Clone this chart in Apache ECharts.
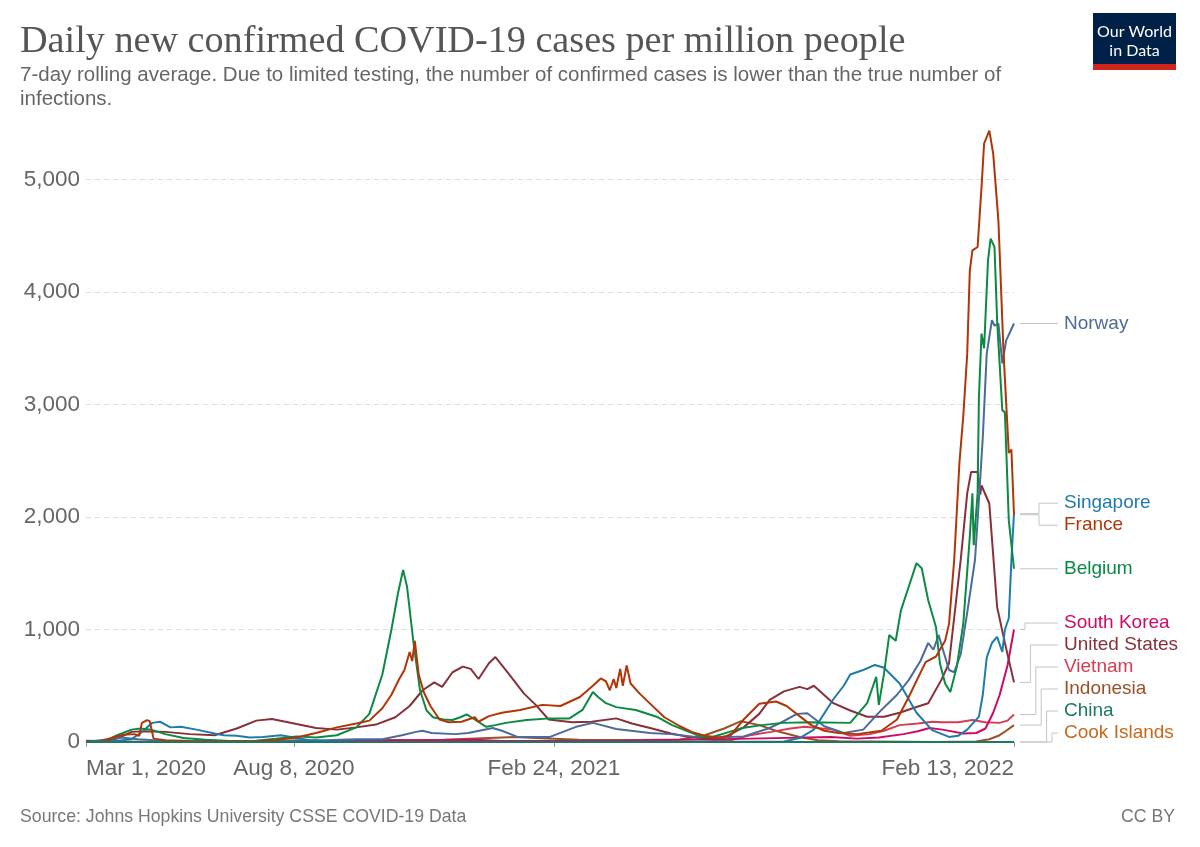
<!DOCTYPE html>
<html><head><meta charset="utf-8">
<script src="https://cdn.jsdelivr.net/npm/echarts@6/dist/echarts.min.js"></script>
<style>html,body{margin:0;padding:0;background:#fff}#c{width:1200px;height:847px}</style>
</head><body><div id="c"></div>
<script>
// ---------------- DATA ----------------
const countries = ['Norway','Singapore','France','Belgium','South Korea','United States','Vietnam','Indonesia','China','Cook Islands'];
const colors = ['#4C6A9C','#1F7BAB','#B13507','#0A8A43','#CF0A66','#883039','#D73C50','#9A5129','#1A7A5F','#C8681C'];

const tickDates = ['2020-03-01','2020-08-08','2021-02-24','2022-02-13'];
const tickLabels = ['Mar 1, 2020','Aug 8, 2020','Feb 24, 2021','Feb 13, 2022'];
const yTicks = [0,1000,2000,3000,4000,5000];

const norway = [['2020-03-01',0],['2020-03-15',20],['2020-03-28',40],['2020-04-10',25],['2020-05-01',10],['2020-06-01',3],['2020-07-15',3],['2020-08-10',15],['2020-09-01',15],['2020-09-25',25],['2020-10-15',25],['2020-10-30',60],['2020-11-10',90],['2020-11-15',100],['2020-11-22',80],['2020-12-10',70],['2020-12-20',80],['2021-01-08',125],['2021-01-15',100],['2021-01-27',45],['2021-02-21',45],['2021-03-13',135],['2021-03-26',170],['2021-04-13',115],['2021-05-09',80],['2021-05-25',70],['2021-06-10',50],['2021-07-01',40],['2021-07-20',50],['2021-08-08',120],['2021-08-19',180],['2021-08-30',250],['2021-09-07',255],['2021-09-20',140],['2021-10-05',80],['2021-10-20',110],['2021-11-03',285],['2021-11-15',420],['2021-11-24',550],['2021-12-03',720],['2021-12-09',880],['2021-12-13',820],['2021-12-17',950],['2021-12-25',640],['2021-12-29',620],['2022-01-03',780],['2022-01-08',1150],['2022-01-14',1620],['2022-01-16',1970],['2022-01-20',2710],['2022-01-23',3450],['2022-01-27',3750],['2022-01-29',3700],['2022-02-01',3720],['2022-02-04',3365],['2022-02-07',3570],['2022-02-13',3720]];

const singapore = [['2020-03-01',2],['2020-03-20',5],['2020-04-05',25],['2020-04-12',80],['2020-04-21',170],['2020-04-27',180],['2020-05-05',130],['2020-05-13',135],['2020-05-25',110],['2020-06-08',75],['2020-06-15',60],['2020-06-25',55],['2020-07-05',40],['2020-07-15',45],['2020-07-29',60],['2020-08-08',40],['2020-08-20',15],['2020-09-05',6],['2020-10-01',1],['2021-05-20',3],['2021-08-20',5],['2021-09-01',35],['2021-09-12',110],['2021-09-27',380],['2021-10-05',500],['2021-10-10',600],['2021-10-20',640],['2021-10-29',685],['2021-11-05',660],['2021-11-17',520],['2021-11-30',260],['2021-12-12',105],['2021-12-25',45],['2022-01-01',55],['2022-01-08',110],['2022-01-17',225],['2022-01-20',420],['2022-01-23',750],['2022-01-27',880],['2022-01-31',935],['2022-02-04',800],['2022-02-06',1000],['2022-02-09',1100],['2022-02-11',1620],['2022-02-13',2030]];

const france = [['2020-03-01',0],['2020-03-12',5],['2020-03-22',40],['2020-03-30',65],['2020-04-07',70],['2020-04-11',55],['2020-04-13',170],['2020-04-17',195],['2020-04-19',185],['2020-04-22',30],['2020-05-01',15],['2020-05-20',8],['2020-06-15',6],['2020-07-10',10],['2020-07-25',18],['2020-08-10',40],['2020-08-25',80],['2020-09-10',130],['2020-09-25',165],['2020-10-05',190],['2020-10-15',300],['2020-10-22',420],['2020-10-28',560],['2020-11-01',640],['2020-11-05',800],['2020-11-07',720],['2020-11-09',900],['2020-11-12',600],['2020-11-16',440],['2020-11-21',320],['2020-11-28',200],['2020-12-05',175],['2020-12-15',180],['2020-12-25',220],['2020-12-28',180],['2021-01-05',230],['2021-01-15',260],['2021-01-29',285],['2021-02-15',330],['2021-03-01',320],['2021-03-16',400],['2021-03-26',500],['2021-04-01',565],['2021-04-05',540],['2021-04-08',460],['2021-04-11',560],['2021-04-13',480],['2021-04-16',650],['2021-04-18',500],['2021-04-21',680],['2021-04-24',520],['2021-05-01',430],['2021-05-10',330],['2021-05-20',220],['2021-06-01',140],['2021-06-10',90],['2021-06-20',55],['2021-07-01',40],['2021-07-10',60],['2021-07-20',200],['2021-08-01',340],['2021-08-14',360],['2021-08-22',320],['2021-09-01',230],['2021-09-10',150],['2021-09-20',100],['2021-10-01',80],['2021-10-15',70],['2021-11-03',100],['2021-11-15',200],['2021-11-24',400],['2021-12-07',710],['2021-12-15',760],['2021-12-22',900],['2021-12-25',1050],['2021-12-29',1620],['2022-01-02',2480],['2022-01-05',2900],['2022-01-08',3450],['2022-01-10',4190],['2022-01-12',4370],['2022-01-16',4400],['2022-01-19',4930],['2022-01-21',5320],['2022-01-25',5435],['2022-01-28',5230],['2022-02-01',4635],['2022-02-05',3450],['2022-02-09',2570],['2022-02-11',2600],['2022-02-13',2020]];

const belgium = [['2020-03-01',0],['2020-03-15',5],['2020-03-25',60],['2020-04-05',110],['2020-04-12',120],['2020-04-20',110],['2020-05-01',70],['2020-05-15',35],['2020-06-01',20],['2020-06-20',10],['2020-07-10',12],['2020-07-25',30],['2020-08-10',50],['2020-08-25',40],['2020-09-10',60],['2020-09-25',130],['2020-10-05',250],['2020-10-15',600],['2020-10-22',1000],['2020-10-27',1320],['2020-10-31',1530],['2020-11-03',1380],['2020-11-08',880],['2020-11-13',460],['2020-11-18',280],['2020-11-23',220],['2020-12-01',200],['2020-12-08',195],['2020-12-14',220],['2020-12-19',245],['2020-12-25',200],['2021-01-03',135],['2021-01-10',150],['2021-01-18',170],['2021-02-03',195],['2021-02-21',210],['2021-03-08',210],['2021-03-18',285],['2021-03-26',445],['2021-03-30',400],['2021-04-05',345],['2021-04-13',310],['2021-04-28',285],['2021-05-14',225],['2021-05-26',150],['2021-06-08',90],['2021-06-18',45],['2021-06-26',45],['2021-07-09',90],['2021-07-19',125],['2021-08-03',150],['2021-08-19',170],['2021-09-09',175],['2021-10-10',170],['2021-10-23',345],['2021-10-30',580],['2021-11-01',330],['2021-11-05',610],['2021-11-09',950],['2021-11-14',900],['2021-11-18',1170],['2021-11-24',1380],['2021-11-30',1590],['2021-12-04',1545],['2021-12-09',1260],['2021-12-15',1020],['2021-12-18',700],['2021-12-22',520],['2021-12-26',445],['2021-12-31',670],['2022-01-05',1055],['2022-01-10',1825],['2022-01-12',2210],['2022-01-13',1750],['2022-01-16',2210],['2022-01-17',3060],['2022-01-19',3630],['2022-01-21',3500],['2022-01-24',4280],['2022-01-26',4475],['2022-01-29',4400],['2022-01-31',3750],['2022-02-04',2950],['2022-02-06',2930],['2022-02-09',1970],['2022-02-13',1540]];

const southKorea = [['2020-03-01',12],['2020-03-10',10],['2020-04-01',2],['2020-08-28',6],['2020-12-25',20],['2021-01-15',10],['2021-04-20',12],['2021-07-25',30],['2021-09-25',45],['2021-10-15',30],['2021-11-01',40],['2021-11-20',70],['2021-12-01',95],['2021-12-10',125],['2021-12-20',110],['2022-01-05',75],['2022-01-15',80],['2022-01-22',120],['2022-01-28',260],['2022-02-02',420],['2022-02-08',680],['2022-02-13',1000]];

const unitedStates = [['2020-03-01',0],['2020-03-15',3],['2020-03-25',30],['2020-04-05',90],['2020-04-15',95],['2020-05-01',90],['2020-05-20',70],['2020-06-08',60],['2020-06-25',120],['2020-07-10',190],['2020-07-22',205],['2020-08-10',160],['2020-08-25',125],['2020-09-10',110],['2020-09-25',130],['2020-10-10',155],['2020-10-25',220],['2020-11-05',320],['2020-11-15',460],['2020-11-24',530],['2020-11-30',490],['2020-12-08',620],['2020-12-16',670],['2020-12-22',650],['2020-12-28',560],['2021-01-05',700],['2021-01-10',755],['2021-01-20',610],['2021-02-01',430],['2021-02-10',330],['2021-02-20',200],['2021-03-10',175],['2021-03-25',180],['2021-04-13',210],['2021-04-25',165],['2021-05-09',125],['2021-05-25',75],['2021-06-08',45],['2021-06-21',30],['2021-07-05',40],['2021-07-20',130],['2021-08-01',250],['2021-08-09',375],['2021-08-20',450],['2021-09-01',490],['2021-09-07',470],['2021-09-12',500],['2021-09-27',345],['2021-10-10',280],['2021-10-23',225],['2021-11-05',225],['2021-11-17',260],['2021-11-27',300],['2021-12-09',345],['2021-12-19',550],['2021-12-25',700],['2022-01-03',1620],['2022-01-08',2210],['2022-01-11',2400],['2022-01-16',2400],['2022-01-18',2200],['2022-01-19',2280],['2022-01-25',2120],['2022-01-31',1200],['2022-02-06',880],['2022-02-13',530]];

const vietnam = [['2020-03-01',0],['2021-04-30',0],['2021-05-20',2],['2021-06-15',3],['2021-07-10',15],['2021-07-25',60],['2021-08-10',90],['2021-08-25',120],['2021-09-05',135],['2021-09-27',110],['2021-10-10',55],['2021-10-25',70],['2021-11-05',100],['2021-11-17',150],['2021-12-01',165],['2021-12-12',180],['2021-12-20',175],['2022-01-01',175],['2022-01-12',195],['2022-01-22',175],['2022-02-02',170],['2022-02-08',190],['2022-02-13',245]];

const indonesia = [['2020-03-01',0],['2020-06-01',2],['2020-09-01',8],['2020-10-01',15],['2020-12-01',20],['2021-01-25',45],['2021-02-10',35],['2021-03-15',20],['2021-05-01',18],['2021-06-01',22],['2021-06-20',60],['2021-07-05',120],['2021-07-18',185],['2021-08-01',150],['2021-08-15',95],['2021-09-01',45],['2021-09-15',15],['2021-10-01',6],['2021-12-15',1],['2022-01-15',5],['2022-01-25',25],['2022-02-01',55],['2022-02-07',100],['2022-02-13',150]];

const china = [['2020-03-01',0.3],['2020-03-15',0.02],['2020-04-15',0.05],['2020-07-30',0.07],['2021-01-15',0.07],['2021-08-05',0.09],['2021-11-05',0.05],['2022-01-15',0.12],['2022-02-13',0.1]];

const cookIslands = [['2020-03-01',0],['2022-02-13',0]];

const seriesData = [norway, singapore, france, belgium, southKorea, unitedStates, vietnam, indonesia, china, cookIslands];

// ---------------- CHART ----------------
function ts(s){ const p = s.split('-').map(Number); return Date.UTC(p[0], p[1]-1, p[2]); }
const tickTs = tickDates.map(ts);
const FONT = '"Liberation Sans", Arial, sans-serif';

const chart = echarts.init(document.getElementById('c'), null, {renderer:'canvas'});
const drawOrder = [9,7,6,4,5,0,1,3,2,8];

const option = {
  animation: false,
  backgroundColor: '#fff',
  textStyle: {fontFamily: FONT},
  title: [
    {text: 'Daily new confirmed COVID-19 cases per million people', left: 20, top: 23, padding: 0,
     textStyle: {fontFamily: '"Liberation Serif", "DejaVu Serif", serif', fontSize: 38.2, fontWeight: 'normal', color: '#555'}},
    {text: '7-day rolling average. Due to limited testing, the number of confirmed cases is lower than the true number of\ninfections.', left: 20, top: 63, padding: 0,
     textStyle: {fontFamily: FONT, fontSize: 20.5, fontWeight: 'normal', color: '#666', lineHeight: 24}},
    {text: 'Source: Johns Hopkins University CSSE COVID-19 Data', left: 20, top: 808, padding: 0,
     textStyle: {fontFamily: FONT, fontSize: 17.7, fontWeight: 'normal', color: '#777'}},
    {text: 'CC BY', right: 25, top: 808, padding: 0,
     textStyle: {fontFamily: FONT, fontSize: 17.7, fontWeight: 'normal', color: '#777'}}
  ],
  grid: {left: 86, right: 186, top: 130, bottom: 105, containLabel: false},
  xAxis: {
    type: 'value', min: tickTs[0], max: tickTs[tickTs.length-1],
    axisLine: {show: true, lineStyle: {color: '#bbb'}},
    axisTick: {show: true, customValues: tickTs, length: 5, lineStyle: {color: '#999'}},
    axisLabel: {customValues: tickTs, color: '#666', fontSize: 22.5, fontFamily: FONT, margin: 15,
      alignMinLabel: 'left', alignMaxLabel: 'right',
      formatter: v => { const i = tickTs.indexOf(v); return i >= 0 ? tickLabels[i] : ''; }},
    splitLine: {show: false}
  },
  yAxis: {
    type: 'value', min: 0, max: 5440, interval: 1000,
    axisLine: {show: false}, axisTick: {show: false},
    axisLabel: {color: '#666', fontSize: 22.5, fontFamily: FONT, margin: 6, showMaxLabel: false,
      formatter: v => yTicks.indexOf(v) >= 0 ? v.toLocaleString('en-US') : ''},
    splitLine: {show: true, showMaxLine: false, lineStyle: {color: '#ddd', type: [5,4], width: 1}}
  },
  series: drawOrder.map(i => ({
    name: countries[i], type: 'line', showSymbol: false, symbol: 'none', silent: true,
    z: 2, lineStyle: {width: 2, color: colors[i]}, itemStyle: {color: colors[i]},
    data: seriesData[i].map(p => [ts(p[0]), p[1]])
  }))
};
chart.setOption(option);

// ---------------- END LABELS ----------------
const gridRect = {left: 86, right: 1200-186, top: 130, bottom: 847-105};
const R = gridRect.right;
const gap = 22;
const bottomLimit = gridRect.bottom - 9;
let items = countries.map((name, i) => {
  const d = seriesData[i]; const last = d[d.length-1];
  const p = chart.convertToPixel({gridIndex: 0}, [ts(last[0]), last[1]]);
  return {name, color: colors[i], endY: p[1], val: last[1], order: i};
});
items.sort((a,b) => (b.val - a.val) || (a.order - b.order));
let clusters = items.map(it => ({items: [it], sum: it.endY}));
function place(c){
  const n = c.items.length;
  let top = c.sum/n - (n-1)*gap/2;
  top = Math.min(top, bottomLimit - (n-1)*gap);
  top = Math.max(top, gridRect.top);
  c.top = top;
}
let changed = true;
while (changed) {
  changed = false;
  clusters.forEach(place);
  for (let i = 1; i < clusters.length; i++) {
    const a = clusters[i-1], b = clusters[i];
    if (a.top + a.items.length*gap > b.top + 0.01) {
      a.items = a.items.concat(b.items); a.sum += b.sum; clusters.splice(i,1); changed = true; break;
    }
  }
}
clusters.forEach(place);

const graphics = [];
clusters.forEach(c => {
  const n = c.items.length;
  c.items.forEach((it, k) => {
    const ly = c.top + k*gap;
    let ex = R + 25;
    if (n > 2) ex = R + 11 + k*(27/(n-1));
    const pts = Math.abs(ly - it.endY) < 0.5
      ? [[R+6, it.endY], [R+44, it.endY]]
      : [[R+6, it.endY], [ex, it.endY], [ex, ly], [R+44, ly]];
    graphics.push({type: 'polyline', silent: true, shape: {points: pts},
      style: {stroke: '#c4c4c4', lineWidth: 1, fill: null}});
    graphics.push({type: 'text', silent: true, x: R+50, y: ly,
      style: {text: it.name, fill: it.color, fontSize: 19, fontFamily: FONT, verticalAlign: 'middle', align: 'left'}});
  });
});

// OWID logo
graphics.push({type: 'group', x: 1093, y: 13, silent: true, children: [
  {type: 'rect', shape: {x: 0, y: 0, width: 83, height: 57}, style: {fill: '#002147'}},
  {type: 'rect', shape: {x: 0, y: 51, width: 83, height: 6}, style: {fill: '#CE261E'}},
  {type: 'text', x: 41.5, y: 19, style: {text: 'Our World', fill: '#fff', fontSize: 16, fontFamily: 'Lato, sans-serif', align: 'center', verticalAlign: 'middle'}},
  {type: 'text', x: 41.5, y: 38, style: {text: 'in Data', fill: '#fff', fontSize: 16, fontFamily: 'Lato, sans-serif', align: 'center', verticalAlign: 'middle'}}
]});
chart.setOption({graphic: graphics});
</script>
</body></html>
